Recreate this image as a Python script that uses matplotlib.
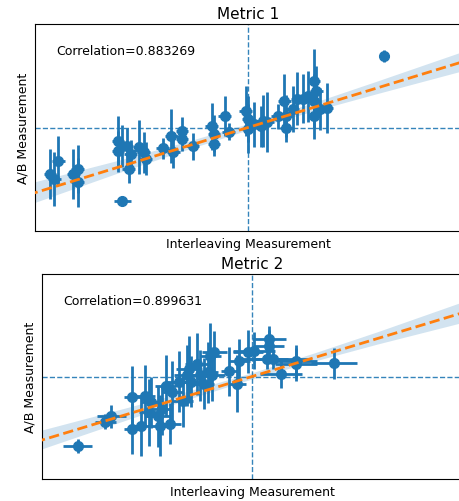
import numpy as np
import matplotlib
matplotlib.use("Agg")
import matplotlib.pyplot as plt

# Metric 1 points (normalised units, centre of axes = 0)
m1_x = [-0.93, -0.91, -0.89, -0.82, -0.80, -0.80, -0.61, -0.59, -0.61, -0.57, -0.55, -0.56,
        -0.59, -0.51, -0.49, -0.48, -0.40, -0.36, -0.35, -0.31, -0.31, -0.26, -0.17, -0.16,
        -0.16, -0.11, -0.09, -0.01, 0.00, 0.00, 0.03, 0.06, 0.07, 0.09, 0.14, 0.17, 0.18,
        0.18, 0.21, 0.23, 0.26, 0.28, 0.31, 0.32, 0.31, 0.31, 0.34, 0.37, 0.64]
m1_y = [-0.45, -0.50, -0.32, -0.45, -0.40, -0.53, -0.13, -0.18, -0.23, -0.18, -0.26, -0.40,
        -0.71, -0.19, -0.24, -0.30, -0.20, -0.08, -0.24, -0.03, -0.11, -0.18, 0.01, -0.06,
        -0.16, 0.11, -0.04, 0.16, 0.08, -0.01, 0.03, 0.01, 0.06, 0.05, 0.11, 0.26, 0.11,
        0.00, 0.18, 0.28, 0.28, 0.30, 0.45, 0.35, 0.26, 0.11, 0.18, 0.19, 0.69]
m1_yerr = [0.24, 0.26, 0.24, 0.24, 0.23, 0.24, 0.24, 0.20, 0.20, 0.18, 0.14, 0.14,
           0.05, 0.26, 0.20, 0.16, 0.10, 0.26, 0.15, 0.13, 0.12, 0.13, 0.23, 0.18,
           0.12, 0.19, 0.08, 0.24, 0.22, 0.24, 0.22, 0.20, 0.25, 0.29, 0.12, 0.26, 0.20,
           0.14, 0.22, 0.26, 0.24, 0.25, 0.31, 0.24, 0.26, 0.22, 0.20, 0.24, 0.06]
m1_xerr = [0.03] * 12 + [0.04] + [0.03] * 35 + [0.02]

# Metric 2 points
m2_x = [-0.83, -0.70, -0.67, -0.57, -0.57, -0.53, -0.51, -0.49, -0.45, -0.44, -0.48, -0.43,
        -0.41, -0.39, -0.38, -0.35, -0.33, -0.31, -0.30, -0.29, -0.26, -0.25, -0.23, -0.21,
        -0.20, -0.18, -0.19, -0.11, -0.07, -0.06, -0.02, 0.01, 0.08, 0.08, 0.07, 0.10,
        0.14, 0.21, 0.21, 0.39]
m2_y = [-0.68, -0.44, -0.39, -0.20, -0.51, -0.48, -0.19, -0.35, -0.39, -0.48, -0.25, -0.32,
        -0.09, -0.46, -0.15, -0.05, -0.24, 0.01, 0.07, -0.05, 0.12, 0.01, -0.07, 0.04,
        0.20, 0.24, 0.01, 0.05, -0.07, 0.15, 0.24, 0.25, 0.37, 0.30, 0.17, 0.17,
        0.02, 0.15, 0.12, 0.13]
m2_xerr = [0.07, 0.05, 0.07, 0.04, 0.04, 0.05, 0.05, 0.05, 0.06, 0.05, 0.05, 0.05,
           0.05, 0.05, 0.05, 0.06, 0.05, 0.06, 0.06, 0.06, 0.06, 0.05, 0.05, 0.05,
           0.05, 0.06, 0.06, 0.04, 0.04, 0.05, 0.07, 0.10, 0.08, 0.07, 0.10, 0.18,
           0.10, 0.10, 0.10, 0.11]
m2_yerr = [0.07, 0.07, 0.11, 0.30, 0.25, 0.30, 0.30, 0.33, 0.30, 0.30, 0.25, 0.25,
           0.30, 0.20, 0.30, 0.30, 0.25, 0.30, 0.33, 0.25, 0.30, 0.25, 0.25, 0.30,
           0.32, 0.20, 0.25, 0.24, 0.28, 0.22, 0.21, 0.18, 0.12, 0.15, 0.10, 0.10,
           0.13, 0.16, 0.16, 0.15]

# regression line and confidence band
fit_x = [-1.1, -0.6, -0.3, 0.0, 0.3, 0.6, 1.1]
m1_slope, m2_slope = 0.63, 0.62
m1_band = [0.11, 0.06, 0.04, 0.03, 0.04, 0.06, 0.10]
m2_band = [0.10, 0.06, 0.04, 0.03, 0.04, 0.06, 0.11]

titles = ["Metric 1", "Metric 2"]
corrs = ["Correlation=0.883269", "Correlation=0.899631"]

fig = plt.figure(figsize=(4.59, 5.02), dpi=100)
ax1 = fig.add_axes([35 / 459, 1 - 232 / 502, 426 / 459, 207 / 502])
ax2 = fig.add_axes([42 / 459, 1 - 480 / 502, 420 / 459, 205 / 502])

panels = [(ax1, m1_x, m1_y, m1_xerr, m1_yerr, m1_slope, m1_band),
          (ax2, m2_x, m2_y, m2_xerr, m2_yerr, m2_slope, m2_band)]

for i, (ax, x, y, xe, ye, slope, band) in enumerate(panels):
    fx = np.array(fit_x)
    fy = slope * fx
    ax.fill_between(fx, fy - np.array(band), fy + np.array(band), color="C0", alpha=0.2, lw=0)
    ax.errorbar(x, y, xerr=xe, yerr=ye, fmt="o", color="C0", ms=7, elinewidth=2, zorder=3)
    ax.plot(fx, fy, "--", color="C1", lw=2, zorder=4)
    ax.axvline(0, color="C0", ls="--", lw=1, alpha=0.9)
    ax.axhline(0, color="C0", ls="--", lw=1, alpha=0.9)
    ax.set_xlim(-1, 1)
    ax.set_ylim(-1, 1)
    ax.set_xticks([])
    ax.set_yticks([])
    ax.set_title(titles[i], fontsize=11, pad=4)
    ax.set_xlabel("Interleaving Measurement", fontsize=9)
    ax.set_ylabel("A/B Measurement", fontsize=9)
    ax.text(0.05, 0.87, corrs[i], transform=ax.transAxes, va="center", fontsize=9)

fig.savefig("out.png", dpi=100)
